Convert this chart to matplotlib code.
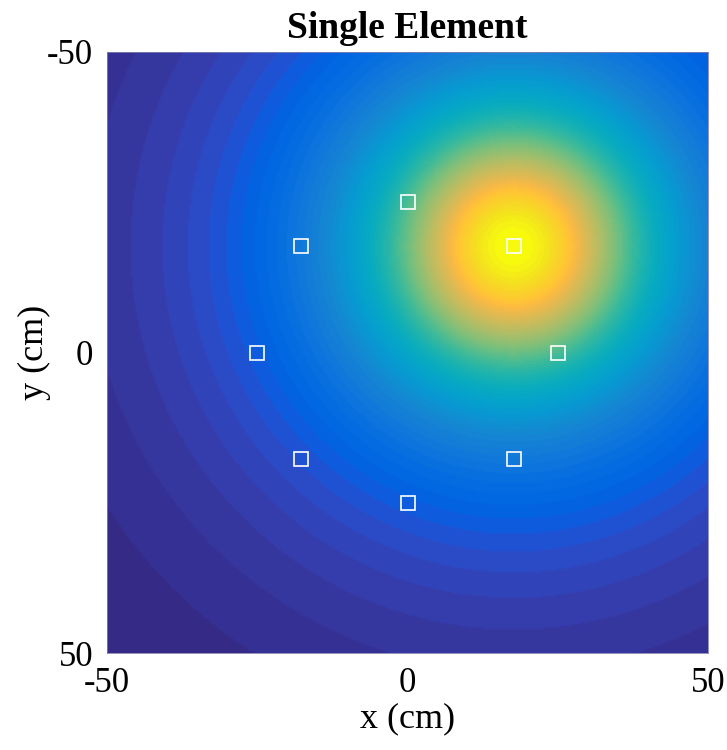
import matplotlib.pyplot as plt
import numpy as np
from matplotlib.colors import ListedColormap

# MATLAB parula (64 colours)
parula_rgb = [
    [0.2081, 0.1663, 0.5292], [0.2116, 0.1898, 0.5777], [0.2123, 0.2138, 0.6270], [0.2081, 0.2386, 0.6771],
    [0.1959, 0.2645, 0.7279], [0.1707, 0.2919, 0.7792], [0.1253, 0.3242, 0.8303], [0.0591, 0.3598, 0.8683],
    [0.0117, 0.3875, 0.8820], [0.0060, 0.4086, 0.8828], [0.0165, 0.4266, 0.8786], [0.0329, 0.4430, 0.8720],
    [0.0498, 0.4586, 0.8641], [0.0629, 0.4737, 0.8554], [0.0723, 0.4887, 0.8467], [0.0779, 0.5040, 0.8384],
    [0.0793, 0.5200, 0.8312], [0.0749, 0.5375, 0.8263], [0.0641, 0.5570, 0.8240], [0.0488, 0.5772, 0.8228],
    [0.0343, 0.5966, 0.8199], [0.0265, 0.6137, 0.8135], [0.0239, 0.6287, 0.8038], [0.0231, 0.6418, 0.7913],
    [0.0228, 0.6535, 0.7768], [0.0267, 0.6642, 0.7607], [0.0384, 0.6743, 0.7436], [0.0590, 0.6838, 0.7254],
    [0.0843, 0.6928, 0.7062], [0.1133, 0.7015, 0.6859], [0.1453, 0.7098, 0.6646], [0.1801, 0.7177, 0.6424],
    [0.2178, 0.7250, 0.6193], [0.2586, 0.7317, 0.5954], [0.3022, 0.7376, 0.5712], [0.3482, 0.7424, 0.5473],
    [0.3953, 0.7459, 0.5244], [0.4420, 0.7481, 0.5033], [0.4871, 0.7491, 0.4840], [0.5300, 0.7491, 0.4661],
    [0.5709, 0.7485, 0.4494], [0.6099, 0.7473, 0.4337], [0.6473, 0.7456, 0.4188], [0.6834, 0.7435, 0.4044],
    [0.7184, 0.7411, 0.3905], [0.7525, 0.7384, 0.3768], [0.7858, 0.7356, 0.3633], [0.8185, 0.7327, 0.3498],
    [0.8507, 0.7299, 0.3360], [0.8824, 0.7274, 0.3217], [0.9139, 0.7258, 0.3063], [0.9450, 0.7261, 0.2886],
    [0.9739, 0.7314, 0.2666], [0.9938, 0.7455, 0.2403], [0.9990, 0.7653, 0.2164], [0.9955, 0.7861, 0.1967],
    [0.9880, 0.8066, 0.1794], [0.9789, 0.8271, 0.1633], [0.9697, 0.8481, 0.1475], [0.9626, 0.8705, 0.1309],
    [0.9589, 0.8949, 0.1132], [0.9598, 0.9218, 0.0948], [0.9661, 0.9514, 0.0755], [0.9763, 0.9831, 0.0538],
]
parula = ListedColormap(parula_rgb)

# element positions (cm)
elem_x = [0, 17.7, 25, 17.7, 0, -17.7, -25, -17.7]
elem_y = [-25, -17.7, 0, 17.7, 25, 17.7, 0, -17.7]

# active element, half-power radius (cm) and falloff exponent of its field
src_x, src_y = 17.7, -17.7
width = 21.0
power = 2.2

ticks = [-50, 0, 50]

xs = np.linspace(-50, 50, 401)
X, Y = np.meshgrid(xs, xs)
R = np.hypot(X - src_x, Y - src_y)
field = 1.0 / (1.0 + (R / width) ** power)

plt.rcParams['font.family'] = ['Liberation Serif', 'DejaVu Serif']
plt.rcParams['axes.unicode_minus'] = False

fig = plt.figure(figsize=(7.27, 7.5), dpi=100)
ax = fig.add_axes([107 / 727, 97 / 750, 601 / 727, 601 / 750])

ax.imshow(field, extent=(-50, 50, 50, -50), cmap=parula, aspect='auto',
          interpolation='bilinear')
ax.plot(elem_x, elem_y, 's', mfc='none', mec='white', ms=10, mew=1.2)

ax.set_xlim(-50, 50)
ax.set_ylim(50, -50)
ax.set_xticks(ticks)
ax.set_yticks(ticks)
ax.tick_params(length=0, labelsize=25, pad=10)
for s in ax.spines.values():
    s.set_linewidth(0.6)
    s.set_color('#8080b0')

ax.set_title('Single Element', fontsize=27, fontweight='bold', pad=10)
ax.set_xlabel('x (cm)', fontsize=26, labelpad=2)
ax.set_ylabel('y (cm)', fontsize=26, labelpad=-3)

fig.savefig('out.png', dpi=100)
